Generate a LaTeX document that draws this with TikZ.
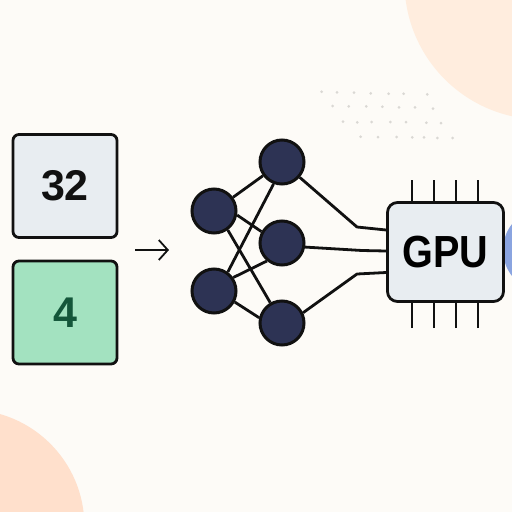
\documentclass[tikz,border=0pt]{standalone}
\usepackage{fontspec}
\setmainfont{Liberation Sans}
\newfontfamily\chipfont[FakeStretch=0.88]{Liberation Sans}
\usetikzlibrary{arrows.meta}
\definecolor{bgc}{HTML}{FDFBF7}
\definecolor{peachtop}{HTML}{FFEDDE}
\definecolor{peachbot}{HTML}{FFE0CC}
\definecolor{bluec}{HTML}{8AA4E0}
\definecolor{navy}{HTML}{2D3354}
\definecolor{inkc}{HTML}{111111}
\definecolor{panel}{HTML}{E8EDF1}
\definecolor{mint}{HTML}{A3E2C0}
\definecolor{forest}{HTML}{14563A}
\definecolor{dotc}{HTML}{DAD8D4}
\tikzset{
  netnode/.style={circle,draw=inkc,fill=navy,line width=3pt,minimum size=44pt,inner sep=0pt},
  wire/.style={draw=inkc,line width=2.8pt,line join=round},
  pin/.style={draw=inkc,line width=2.6pt},
  card/.style={rectangle,rounded corners=6pt,draw=inkc,line width=2.8pt,minimum width=104pt,minimum height=103pt,inner sep=0pt,font=\bfseries\fontsize{43}{43}\selectfont},
  chip/.style={rectangle,rounded corners=10pt,draw=inkc,fill=panel,line width=2.8pt,minimum width=116pt,minimum height=99pt,inner sep=0pt,font=\chipfont\bfseries\fontsize{45}{45}\selectfont},
  dot/.style={circle,fill=dotc,inner sep=0pt,minimum size=3pt}
}
\begin{document}
\begin{tikzpicture}[x=1pt,y=-1pt]
\useasboundingbox (0,0) rectangle (512,512);
\fill[bgc] (0,0) rectangle (512,512);
\begin{scope}
\clip (0,0) rectangle (512,512);
\fill[peachtop] (542,-18) circle[radius=137.5];
\fill[peachbot] (-32,526) circle[radius=116.4];
\fill[bluec] (545,250) circle[radius=42];
\end{scope}
\foreach \X/\Y in {35/275,81/277,132/278,182/280,236/281,281/281,352/283,
68/318,116/319,169/319,217/320,267/322,315/322,369/326,
99/365,142/367,185/366,241/366,288/366,349/368,393/369,
152/410,204/411,260/411,307/412,342/412,382/414,428/414}
  \node[dot] at ({310+\X/3},{\Y/3}) {};
\node[card,fill=panel,text=inkc] (a) at (65,186) {32};
\node[card,fill=mint,text=forest] (b) at (65,312.5) {4};
\coordinate (as) at (135,250);
\coordinate (ae) at (169,250);
\draw[draw=inkc,line width=1.8pt,-{Straight Barb[length=9pt,width=20pt,line width=1.8pt]}] (as) -- (ae);
\node[netnode] (l1) at (214,211) {};
\node[netnode] (l2) at (214,291) {};
\node[netnode] (m1) at (282,162) {};
\node[netnode] (m2) at (282,243) {};
\node[netnode] (m3) at (282,323) {};
\node[chip] (g) at (445.5,252) {GPU};
\draw[wire] (l1) -- (m1);
\draw[wire] (l1.-10) -- (m2.151);
\draw[wire] (l1.-54) -- (m3.120);
\draw[wire] (l2.54) -- (m1.249);
\draw[wire] (l2.35) -- (m2.230);
\draw[wire] (l2.-28) -- (m3.167);
\coordinate (w1) at (357,227);
\coordinate (w2) at (362,250.5);
\coordinate (w3) at (357,274);
\draw[wire] (m1) -- (w1) -- (g.west |- 0,230);
\draw[wire] (m2.-10) -- (w2) -- (g.west |- 0,251);
\draw[wire] (m3.26) -- (w3) -- (g.west |- 0,272.5);
\foreach \px/\n in {412/1,434/2,456/3,478/4}{
  \coordinate (t\n) at (\px,180);
  \coordinate (u\n) at (\px,328);
  \draw[pin] (t\n) -- (\px,202);
  \draw[pin] (u\n) -- (\px,302);
}
\end{tikzpicture}
\end{document}
